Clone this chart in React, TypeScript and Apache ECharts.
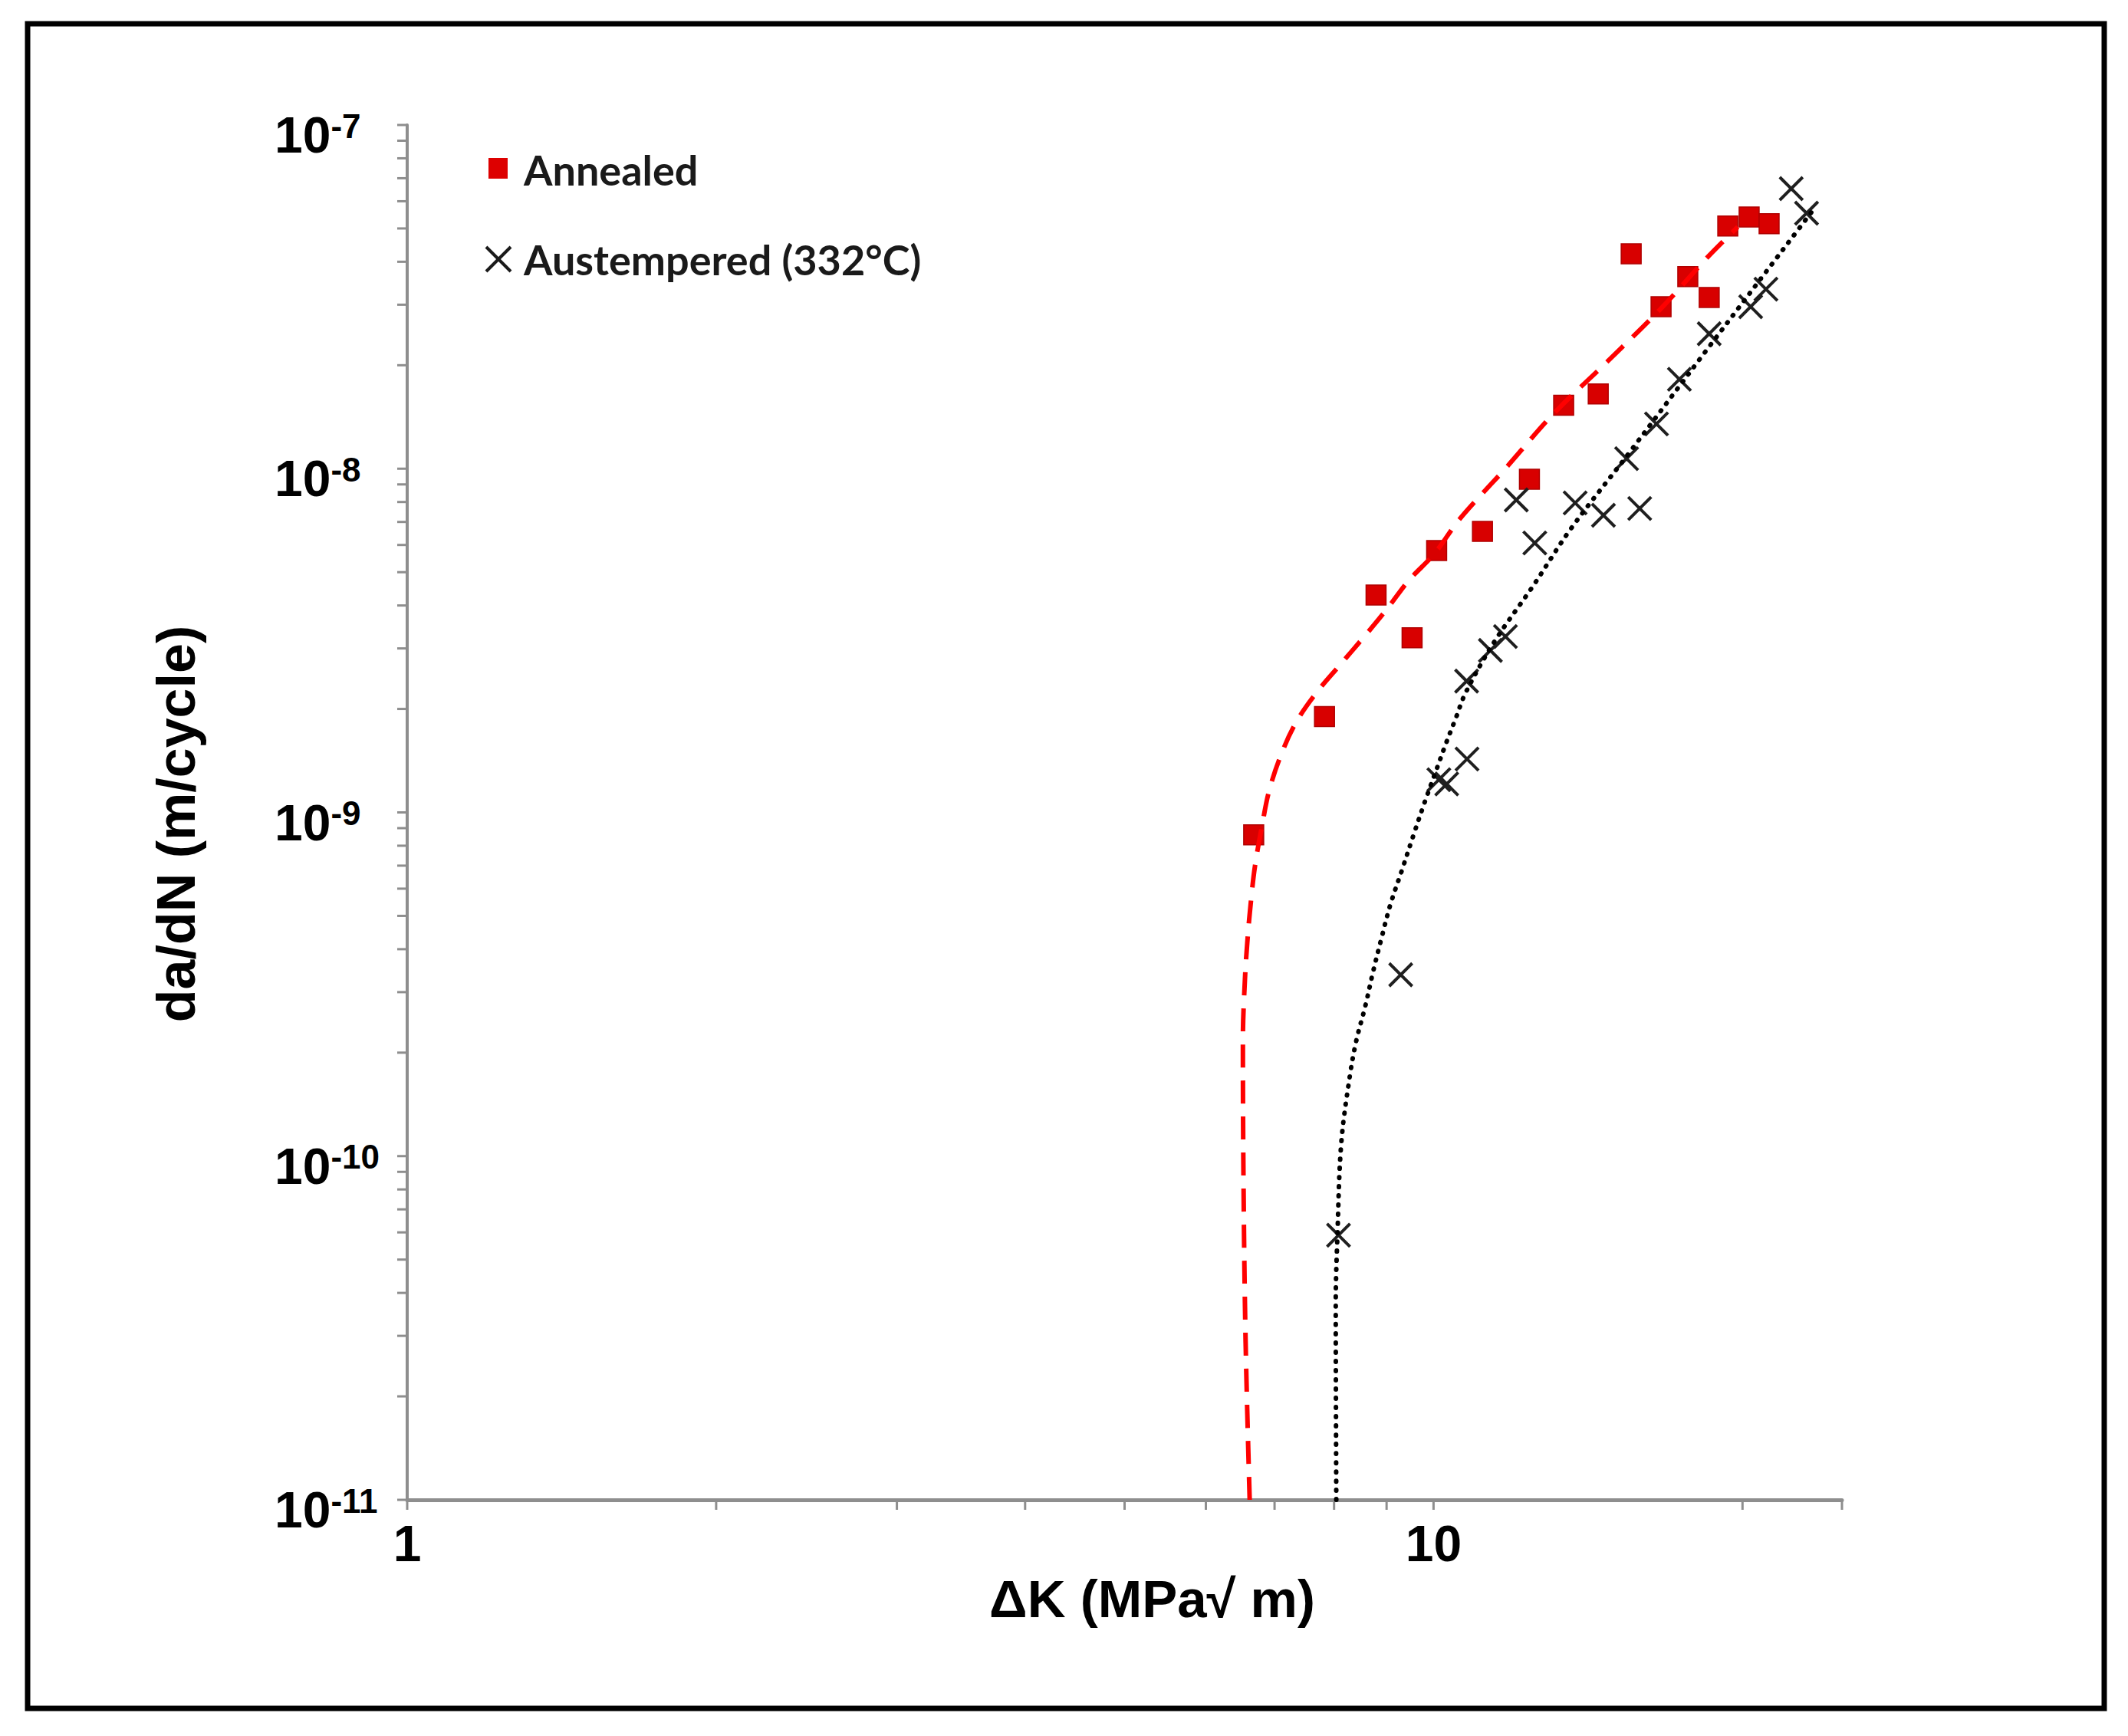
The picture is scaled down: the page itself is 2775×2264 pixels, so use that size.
import React, { useEffect, useRef } from "react";
import * as echarts from "echarts";

// ---- data ----
const annealedK = [6.68, 7.83, 8.79, 9.53, 10.07, 11.16, 12.4, 13.39, 14.47, 15.58, 16.66, 17.69, 18.56, 19.35, 20.3, 21.23];
const annealedRate = [8.6e-10, 1.9e-9, 4.29e-9, 3.22e-9, 5.78e-9, 6.57e-9, 9.32e-9, 1.53e-8, 1.65e-8, 4.22e-8, 2.96e-8, 3.62e-8, 3.15e-8, 5.08e-8, 5.4e-8, 5.16e-8];

const austemperedK = [8.08, 9.29, 10.12, 10.3, 10.78, 10.77, 11.36, 11.75, 12.04, 12.55, 13.74, 14.64, 15.88, 15.42, 16.49, 17.36, 18.56, 20.37, 21.08, 22.31, 23.09];
const austemperedRate = [5.89e-11, 3.37e-10, 1.245e-9, 1.21e-9, 1.43e-9, 2.41e-9, 2.96e-9, 3.25e-9, 8.11e-9, 6.08e-9, 7.95e-9, 7.32e-9, 7.66e-9, 1.07e-8, 1.35e-8, 1.82e-8, 2.47e-8, 2.96e-8, 3.33e-8, 6.53e-8, 5.54e-8];

const annealedFitK = [6.62, 6.56, 6.53, 6.52, 6.55, 6.59, 6.64, 6.7, 6.81, 6.91, 7.09, 7.34, 7.69, 8.11, 8.54, 9.01, 9.46, 10.02, 10.53, 11.01, 11.73, 13.1, 14.72, 16.63, 18.5, 19.79];
const annealedFitRate = [1e-11, 2.88e-11, 8.05e-11, 2.17e-10, 3.27e-10, 4.32e-10, 5.55e-10, 7.0e-10, 9.23e-10, 1.146e-9, 1.451e-9, 1.82e-9, 2.23e-9, 2.69e-9, 3.22e-9, 3.91e-9, 4.73e-9, 5.66e-9, 6.95e-9, 8.11e-9, 9.96e-9, 1.449e-8, 2.03e-8, 2.91e-8, 4.13e-8, 5.05e-8];

const austemperedFitK = [8.04, 8.03, 8.06, 8.13, 8.29, 8.41, 8.58, 8.73, 8.9, 9.08, 9.32, 9.56, 9.81, 10.07, 10.28, 10.51, 10.75, 11.46, 12.49, 13.6, 15.42, 18.44, 22.89, 23.37];
const austemperedFitRate = [1e-11, 3.72e-11, 5.85e-11, 1.09e-10, 1.72e-10, 2.17e-10, 2.73e-10, 3.43e-10, 4.32e-10, 5.41e-10, 6.82e-10, 8.59e-10, 1.077e-9, 1.337e-9, 1.584e-9, 1.877e-9, 2.234e-9, 3.135e-9, 4.54e-9, 6.67e-9, 1.087e-8, 2.208e-8, 5.16e-8, 5.6e-8];

// axis ticks / labels
const xMin = 1;
const xMax = 25;
const yMin = 1e-11;
const yMax = 1e-7;
const xTickValues = [1, 2, 3, 4, 5, 6, 7, 8, 9, 10, 20, 25];
const xLabelValues = [1, 10];
const yTickDecades = [-11, -10, -9, -8];
const yTickMantissas = [1, 2, 3, 4, 5, 6, 7, 8, 9];
const yTickValues = [
  ...yTickDecades.flatMap((d) => yTickMantissas.map((m) => m * Math.pow(10, d))),
  yMax,
];

const seriesNames = ["Annealed", "Austempered (332°C)"];

const FONT = "'Liberation Sans', Arial, sans-serif";
const LEGEND_FONT = "Lato, 'Open Sans', sans-serif";
const AXIS_GRAY = "#8e8e8e";
const CROSS_PATH = "path://M0,0L10,10M10,0L0,10";

const zip = (a: number[], b: number[]) => a.map((v, i) => [v, b[i]]);

function buildOption(): any {
  return {
    animation: false,
    backgroundColor: "#ffffff",
    grid: { left: 531, top: 163, right: 2775 - 2402, bottom: 2264 - 1956, containLabel: false, show: false },
    xAxis: {
      type: "log",
      logBase: 10,
      min: xMin,
      max: xMax,
      name: "ΔK (MPa√ m)",
      nameLocation: "middle",
      nameGap: 84,
      nameTextStyle: { fontSize: 69, fontWeight: "bold", fontFamily: FONT, color: "#000", padding: [0, 0, 0, 72] },
      axisLine: { show: true, onZero: false, lineStyle: { color: AXIS_GRAY, width: 5 } },
      axisTick: { show: false },
      splitLine: { show: false },
      minorTick: { show: false },
      axisLabel: {
        margin: 24,
        fontSize: 66,
        fontWeight: "bold",
        fontFamily: FONT,
        color: "#000",
        formatter: (v: number) => {
          const hit = xLabelValues.find((l) => Math.abs(v - l) < 1e-6);
          return hit !== undefined ? String(hit) : "";
        },
      },
    },
    yAxis: {
      type: "log",
      logBase: 10,
      min: yMin,
      max: yMax,
      name: "da/dN (m/cycle)",
      nameLocation: "middle",
      nameGap: 266,
      nameTextStyle: { fontSize: 70, fontWeight: "bold", fontFamily: FONT, color: "#000", padding: [0, 30, 0, 0] },
      axisLine: { show: true, onZero: false, lineStyle: { color: AXIS_GRAY, width: 4 } },
      axisTick: { show: false },
      splitLine: { show: false },
      minorTick: { show: false },
      axisLabel: {
        align: "left",
        margin: 173,
        padding: [26, 0, 0, 0],
        formatter: (v: number) => {
          const e = Math.round(Math.log10(v));
          return "{b|10}{s|" + e + "}";
        },
        rich: {
          b: { fontSize: 66, fontWeight: "bold", fontFamily: FONT, color: "#000" },
          s: { fontSize: 44, fontWeight: "bold", fontFamily: FONT, color: "#000", padding: [0, 0, 24, 0] },
        },
      },
    },
    graphic: [
      {
        type: "rect",
        silent: true,
        shape: { x: 36, y: 31, width: 2708, height: 2197 },
        style: { fill: "none", stroke: "#000", lineWidth: 7 },
        z: 100,
      },
      {
        type: "rect",
        silent: true,
        shape: { x: 637, y: 206, width: 25, height: 27 },
        style: { fill: "#dd0000" },
      },
      {
        type: "text",
        silent: true,
        x: 683,
        y: 221,
        style: {
          text: seriesNames[0],
          fontSize: 54,
          fontWeight: "bold",
          fontFamily: LEGEND_FONT,
          fill: "#1a1a1a",
          align: "left",
          verticalAlign: "middle",
        },
      },
      {
        type: "line",
        silent: true,
        shape: { x1: 634, y1: 322, x2: 666, y2: 354 },
        style: { stroke: "#1a1a1a", lineWidth: 4 },
      },
      {
        type: "line",
        silent: true,
        shape: { x1: 666, y1: 322, x2: 634, y2: 354 },
        style: { stroke: "#1a1a1a", lineWidth: 4 },
      },
      {
        type: "text",
        silent: true,
        x: 683,
        y: 338,
        style: {
          text: seriesNames[1],
          fontSize: 54,
          fontWeight: "bold",
          fontFamily: LEGEND_FONT,
          fill: "#1a1a1a",
          align: "left",
          verticalAlign: "middle",
        },
      },
    ],
    series: [
      {
        type: "custom",
        name: "xticks",
        silent: true,
        clip: false,
        z: 1,
        data: xTickValues.map((v) => [v, yMin]),
        renderItem: (_p: any, api: any) => {
          const p = api.coord([api.value(0), api.value(1)]);
          return {
            type: "line",
            shape: { x1: p[0], y1: p[1], x2: p[0], y2: p[1] + 13 },
            style: { stroke: AXIS_GRAY, lineWidth: 3 },
          };
        },
      },
      {
        type: "custom",
        name: "yticks",
        silent: true,
        clip: false,
        z: 1,
        data: yTickValues.map((v) => [xMin, v]),
        renderItem: (_p: any, api: any) => {
          const p = api.coord([api.value(0), api.value(1)]);
          return {
            type: "line",
            shape: { x1: p[0] - 13, y1: p[1], x2: p[0], y2: p[1] },
            style: { stroke: AXIS_GRAY, lineWidth: 3 },
          };
        },
      },
      {
        type: "scatter",
        name: seriesNames[0],
        symbol: "rect",
        symbolSize: 26,
        z: 3,
        emphasis: { disabled: true },
        itemStyle: { color: "#d80000", borderColor: "#b00000", borderWidth: 1.5, opacity: 1 },
        data: zip(annealedK, annealedRate),
      },
      {
        type: "scatter",
        name: seriesNames[1],
        symbol: CROSS_PATH,
        symbolSize: 30,
        z: 3,
        emphasis: { disabled: true },
        itemStyle: { color: "#1f1f1f", borderColor: "#1f1f1f", borderWidth: 4, opacity: 1 },
        data: zip(austemperedK, austemperedRate),
      },
      {
        type: "line",
        name: "Annealed fit",
        showSymbol: false,
        symbol: "none",
        smooth: 0.35,
        z: 4,
        silent: true,
        lineStyle: { color: "#ff0000", width: 6, type: [30, 17] },
        data: zip(annealedFitK, annealedFitRate),
      },
      {
        type: "line",
        name: "Austempered fit",
        showSymbol: false,
        symbol: "none",
        smooth: 0.35,
        z: 4,
        silent: true,
        lineStyle: { color: "#000000", width: 6, type: [1, 11], cap: "round" },
        data: zip(austemperedFitK, austemperedFitRate),
      },
    ],
  };
}

export default function App() {
  const ref = useRef<HTMLDivElement>(null);
  useEffect(() => {
    document.body.style.margin = "0";
    const el = ref.current;
    if (!el) return;
    const chart = echarts.init(el, null, { renderer: "svg" });
    chart.setOption(buildOption());
    return () => {
      chart.dispose();
    };
  }, []);
  return <div ref={ref} style={{ width: 2775, height: 2264, background: "#ffffff" }} />;
}
